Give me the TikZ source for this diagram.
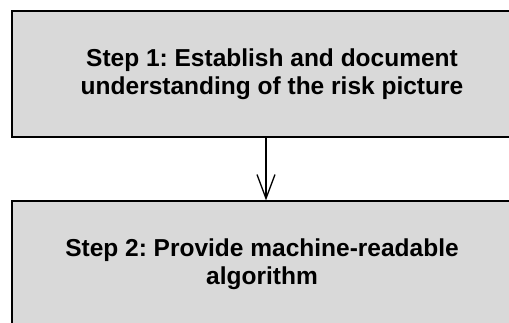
\documentclass[tikz,border=0pt]{standalone}
\usepackage{fontspec}
\setmainfont{Liberation Sans}
\usetikzlibrary{arrows.meta}
\begin{document}
\begin{tikzpicture}[x=1pt,y=-1pt,
  stepbox/.style={draw=black, line width=1.3pt, fill=boxgray,
    minimum width=508pt, minimum height=126pt, inner sep=0pt},
  steptext/.style={align=center, inner sep=0pt,
    font=\frenchspacing\bfseries\fontsize{24.5}{28}\selectfont},
  flow/.style={line width=1.3pt, -{Straight Barb[length=24pt,width=18pt,line width=1.3pt]}}]
  \definecolor{boxgray}{HTML}{D9D9D9}
  \useasboundingbox (0,0) rectangle (509,322);
  \clip (0,0) rectangle (509,322);
  \node[stepbox] (s1) at (266,74) {};
  \node[stepbox] (s2) at (266,264) {};
  \node[steptext] (t1) at (272,74) {Step 1: Establish and document\\understanding of the risk picture};
  \node[steptext] (t2) at (262,264) {Step 2: Provide machine-readable\\algorithm};
  \draw[flow] (s1.south) -- (s2.north);
\end{tikzpicture}
\end{document}
